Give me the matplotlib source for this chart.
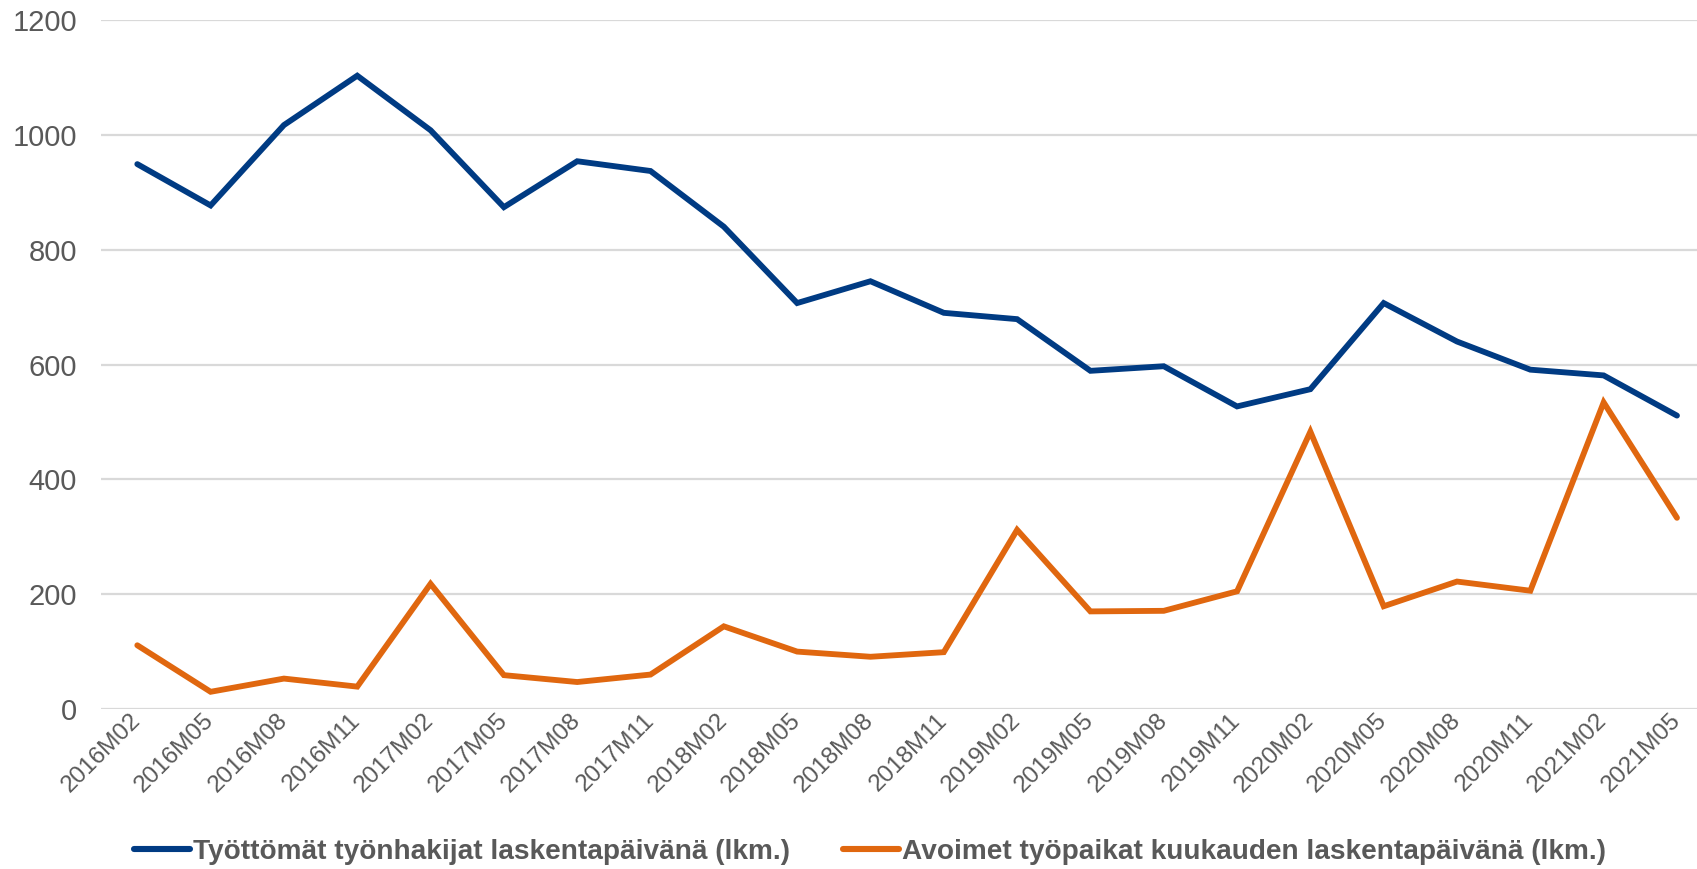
import matplotlib

matplotlib.use("Agg")
import matplotlib.pyplot as plt

months = [
    "2016M02", "2016M05", "2016M08", "2016M11",
    "2017M02", "2017M05", "2017M08", "2017M11",
    "2018M02", "2018M05", "2018M08", "2018M11",
    "2019M02", "2019M05", "2019M08", "2019M11",
    "2020M02", "2020M05", "2020M08", "2020M11",
    "2021M02", "2021M05",
]
unemployed = [
    949, 877, 1017, 1103, 1008, 874, 954, 937, 840, 707, 745,
    690, 679, 589, 597, 527, 557, 707, 640, 591, 581, 511,
]
vacancies = [
    111, 30, 53, 39, 218, 59, 47, 60, 144, 100, 91,
    99, 312, 170, 171, 205, 483, 179, 222, 206, 534, 333,
]
series_labels = [
    "Työttömät työnhakijat laskentapäivänä (lkm.)",
    "Avoimet työpaikat kuukauden laskentapäivänä (lkm.)",
]

BLUE = "#003B83"
ORANGE = "#E0670F"
GREY_TEXT = "#595959"
GRID = "#D9D9D9"

plt.rcParams["font.family"] = ["Liberation Sans", "DejaVu Sans"]

fig = plt.figure(figsize=(16.97, 8.69), dpi=100)
# plot area runs off the right edge like in the cropped original
ax = fig.add_axes([0.0593, 0.1841, 0.9505, 0.7929])

x = range(len(months))
ax.plot(x, unemployed, color=BLUE, lw=4.2, solid_joinstyle="miter",
        solid_capstyle="round", label=series_labels[0], clip_on=False)
ax.plot(x, vacancies, color=ORANGE, lw=4.2, solid_joinstyle="miter",
        solid_capstyle="round", label=series_labels[1], clip_on=False)

ax.set_xlim(-0.5, len(months) - 0.5)
ax.set_ylim(0, 1200)
ax.set_yticks(range(0, 1201, 200))
ax.grid(axis="y", color=GRID, lw=1.6)
ax.set_axisbelow(True)
for side in ax.spines.values():
    side.set_visible(False)

ax.set_xticks(list(x))
ax.set_xticklabels(months, rotation=45, ha="right", va="center",
                   rotation_mode="anchor")
ax.tick_params(axis="x", length=0, pad=6, labelsize=17.5, labelcolor=GREY_TEXT)
ax.tick_params(axis="y", length=0, pad=17, labelsize=21, labelcolor=GREY_TEXT)

leg = fig.legend(
    loc="center left", bbox_to_anchor=(0.064, 0.02), ncol=2, frameon=False,
    handlelength=2.0, handletextpad=0.1, columnspacing=1.9,
    prop={"weight": "bold", "size": 20.2},
)
for t in leg.get_texts():
    t.set_color(GREY_TEXT)
for h in leg.get_lines():
    h.set_linewidth(4.4)

fig.savefig("out.png", dpi=100)
